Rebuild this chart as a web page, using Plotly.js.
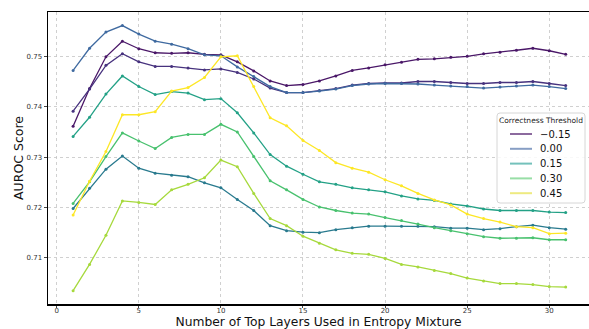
<!DOCTYPE html>
<html><head><meta charset="utf-8">
<script src="https://cdn.plot.ly/plotly-3.0.1.min.js"></script>
<style>html,body{margin:0;padding:0;background:#fff}#chart{width:589px;height:329px}</style>
</head><body><div id="chart"></div>
<script>
const layers = [1,2,3,4,5,6,7,8,9,10,11,12,13,14,15,16,17,18,19,20,21,22,23,24,25,26,27,28,29,30,31];

const thrA = [0.7361,0.7436,0.7499,0.7530,0.7515,0.7507,0.7506,0.7507,0.7504,0.7503,0.7489,0.7471,0.7451,0.7442,0.7444,0.7451,0.7461,0.7472,0.7477,0.7483,0.7488,0.7494,0.7495,0.7498,0.7500,0.7505,0.7508,0.7512,0.7516,0.7511,0.7504];
const thrB = [0.7391,0.7435,0.7482,0.7505,0.7489,0.7480,0.7480,0.7477,0.7473,0.7475,0.7468,0.7455,0.7437,0.7428,0.7428,0.7432,0.7436,0.7443,0.7446,0.7447,0.7447,0.7450,0.7450,0.7448,0.7446,0.7446,0.7448,0.7448,0.7450,0.7446,0.7442];
const thrC = [0.7472,0.7516,0.7548,0.7561,0.7544,0.7530,0.7524,0.7515,0.7503,0.7501,0.7479,0.7460,0.7440,0.7428,0.7428,0.7431,0.7435,0.7442,0.7445,0.7446,0.7446,0.7445,0.7443,0.7441,0.7440,0.7437,0.7439,0.7441,0.7443,0.7440,0.7436];
const thrD = [0.7198,0.7238,0.7276,0.7302,0.7278,0.7268,0.7264,0.7261,0.7249,0.7239,0.7216,0.7194,0.7164,0.7154,0.7151,0.7150,0.7156,0.7160,0.7163,0.7163,0.7163,0.7163,0.7162,0.7159,0.7159,0.7156,0.7158,0.7162,0.7165,0.7160,0.7157];
const thrE = [0.7341,0.7379,0.7425,0.7461,0.7440,0.7424,0.7430,0.7427,0.7414,0.7416,0.7388,0.7348,0.7305,0.7282,0.7266,0.7251,0.7246,0.7239,0.7235,0.7231,0.7223,0.7217,0.7214,0.7207,0.7203,0.7197,0.7194,0.7194,0.7194,0.7191,0.7190];
const thrF = [0.7208,0.7251,0.7301,0.7348,0.7332,0.7317,0.7339,0.7345,0.7345,0.7365,0.7350,0.7301,0.7253,0.7235,0.7216,0.7201,0.7194,0.7189,0.7187,0.7180,0.7174,0.7167,0.7160,0.7154,0.7148,0.7142,0.7139,0.7139,0.7140,0.7136,0.7136];
const thrG = [0.7035,0.7087,0.7145,0.7213,0.7210,0.7206,0.7235,0.7246,0.7259,0.7294,0.7281,0.7228,0.7178,0.7164,0.7143,0.7129,0.7116,0.7109,0.7107,0.7099,0.7087,0.7082,0.7075,0.7069,0.7060,0.7054,0.7049,0.7049,0.7047,0.7043,0.7042];
const thrH = [0.7185,0.7252,0.7311,0.7384,0.7384,0.7390,0.7431,0.7438,0.7458,0.7499,0.7501,0.7440,0.7378,0.7362,0.7333,0.7313,0.7289,0.7278,0.7270,0.7255,0.7243,0.7228,0.7215,0.7205,0.7187,0.7178,0.7171,0.7162,0.7160,0.7148,0.7149];

const seriesValues = [thrA, thrB, thrC, thrD, thrE, thrF, thrG, thrH];
const seriesColors = ['#4a1768','#47327e','#3f6aa0','#297a8e','#23a186','#48c16e','#a6d93c','#fde725'];

const legendTitle = 'Correctness Threshold';
const legendLabels = ['\u22120.15','0.00','0.15','0.30','0.45'];
const legendColors = ['#8c6a9e','#879ec4','#74c1bb','#98dea6','#eeea80'];

const traces = seriesValues.map((vals, i) => ({
  x: layers, y: vals, type: 'scatter', mode: 'lines+markers',
  line: {color: seriesColors[i], width: 1.3},
  marker: {color: seriesColors[i], size: 3},
  showlegend: false, hoverinfo: 'skip'
}));

// Legend drawn in paper space (plot area: x 48..589 px, y 12..304 px)
const W = 541, H = 292, L = 48, B = 304;
const px = v => (v - L) / W;
const py = v => (B - v) / H;
function roundRect(x0, y0, x1, y1, r) {
  const a = px(x0), b = px(x1), t = py(y0), u = py(y1), rx = r / W, ry = r / H;
  return `M ${a+rx},${t} L ${b-rx},${t} Q ${b},${t} ${b},${t-ry} L ${b},${u+ry} Q ${b},${u} ${b-rx},${u} ` +
         `L ${a+rx},${u} Q ${a},${u} ${a},${u+ry} L ${a},${t-ry} Q ${a},${t} ${a+rx},${t} Z`;
}
const shapes = [{
  type: 'path', xref: 'paper', yref: 'paper', path: roundRect(497, 113, 585, 203, 3),
  line: {color: '#d6d6d6', width: 1}, fillcolor: 'rgba(255,255,255,0.85)', layer: 'above'
}];
const annotations = [{
  xref: 'paper', yref: 'paper', x: px(541), y: py(120), text: legendTitle,
  showarrow: false, xanchor: 'center', yanchor: 'middle',
  font: {size: 7.5, color: '#222', family: 'DejaVu Sans'}
}];
legendLabels.forEach((lab, i) => {
  const yy = 134 + 14.8 * i;
  shapes.push({type: 'line', xref: 'paper', yref: 'paper', x0: px(510), x1: px(532), y0: py(yy), y1: py(yy),
    line: {color: legendColors[i], width: 2}, layer: 'above'});
  annotations.push({xref: 'paper', yref: 'paper', x: px(538), y: py(yy), text: lab, showarrow: false,
    xanchor: 'left', yanchor: 'middle', font: {size: 10, color: '#111', family: 'DejaVu Sans'}});
});

const layout = {
  width: 589, height: 329,
  margin: {l: 48, r: 0, t: 12, b: 25},
  paper_bgcolor: '#fff', plot_bgcolor: '#fff',
  font: {family: 'DejaVu Sans', color: '#222'},
  showlegend: false,
  shapes: shapes, annotations: annotations,
  xaxis: {
    range: [-0.53, 32.42], tickvals: [0,5,10,15,20,25,30],
    showline: true, linecolor: '#000', linewidth: 1.5, mirror: true,
    showgrid: true, gridcolor: '#c4c4c4', gridwidth: 0.8, griddash: 'dot',
    zeroline: false, ticks: 'outside', ticklen: 2, tickcolor: '#444',
    ticklabelstandoff: -3,
    tickfont: {size: 7, color: '#333'},
    title: {text: 'Number of Top Layers Used in Entropy Mixture', font: {size: 12.3, color: '#111'}, standoff: 0}
  },
  yaxis: {
    range: [0.70085, 0.75879], tickvals: [0.71,0.72,0.73,0.74,0.75], ticktext: ['0.71','0.72','0.73','0.74','0.75'],
    showline: true, linecolor: '#000', linewidth: 1.5,
    showgrid: true, gridcolor: '#c4c4c4', gridwidth: 0.8, griddash: 'dot',
    zeroline: false, ticks: 'outside', ticklen: 3, tickcolor: '#444',
    tickfont: {size: 7, color: '#333'},
    title: {text: 'AUROC Score', font: {size: 12.5, color: '#111'}, standoff: 0}
  }
};

Plotly.newPlot('chart', traces, layout, {displayModeBar: false, staticPlot: true});
</script>
</body></html>
